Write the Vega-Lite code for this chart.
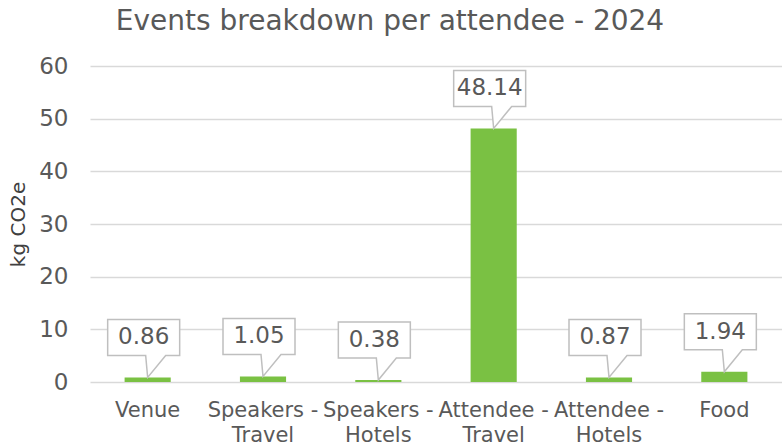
{
  "$schema": "https://vega.github.io/schema/vega-lite/v6.json",
  "autosize": {"type": "none"},
  "padding": {"left": 90, "top": 66, "right": 0, "bottom": 64},
  "width": 692,
  "height": 316,
  "background": "white",
  "config": {
    "font": "DejaVu Sans",
    "view": {"stroke": null}
  },
  "title": {
    "text": "Events breakdown per attendee - 2024",
    "fontSize": 28,
    "fontWeight": "normal",
    "color": "#595959",
    "anchor": "middle",
    "frame": "group",
    "dx": -46,
    "offset": 19
  },
  "data": {
    "values": [
      {"category": "Venue", "value": 0.86},
      {"category": "Speakers - Travel", "value": 1.05},
      {"category": "Speakers - Hotels", "value": 0.38},
      {"category": "Attendee - Travel", "value": 48.14},
      {"category": "Attendee - Hotels", "value": 0.87},
      {"category": "Food", "value": 1.94}
    ]
  },
  "encoding": {
    "x": {
      "field": "category",
      "type": "nominal",
      "sort": null,
      "scale": {"paddingInner": 0.6, "paddingOuter": 0.3},
      "axis": {
        "title": null,
        "labelAngle": 0,
        "ticks": false,
        "domain": false,
        "labelFontSize": 21,
        "labelColor": "#595959",
        "labelPadding": 17,
        "labelLineHeight": 25,
        "labelExpr": "indexof(datum.label, ' - ') > 0 ? [slice(datum.label, 0, indexof(datum.label, ' - ') + 2), slice(datum.label, indexof(datum.label, ' - ') + 3)] : datum.label"
      }
    },
    "y": {
      "field": "value",
      "type": "quantitative",
      "scale": {"domain": [0, 60]},
      "axis": {
        "title": "kg CO2e",
        "titleFontSize": 20,
        "titleFontWeight": "normal",
        "titleColor": "#404040",
        "titlePadding": 10,
        "values": [0, 10, 20, 30, 40, 50, 60],
        "ticks": false,
        "domain": false,
        "labelFontSize": 23,
        "labelColor": "#595959",
        "labelPadding": 22,
        "gridColor": "#d9d9d9",
        "gridWidth": 1.5
      }
    }
  },
  "layer": [
    {
      "mark": {"type": "bar", "color": "#7ac143"}
    },
    {
      "mark": {
        "type": "point",
        "shape": "M0,0 L-0.05,-0.55 L-1.0,-0.55 L-1.0,-1.45 L0.8,-1.45 L0.8,-0.55 L0.45,-0.55 Z",
        "size": 6400,
        "filled": true,
        "fill": "white",
        "stroke": "#bfbfbf",
        "strokeWidth": 1.5,
        "opacity": 1
      }
    },
    {
      "mark": {
        "type": "text",
        "dy": -40,
        "dx": -4,
        "fontSize": 23,
        "color": "#595959",
        "baseline": "middle"
      },
      "encoding": {"text": {"field": "value", "type": "quantitative", "format": ".2f"}}
    }
  ]
}
